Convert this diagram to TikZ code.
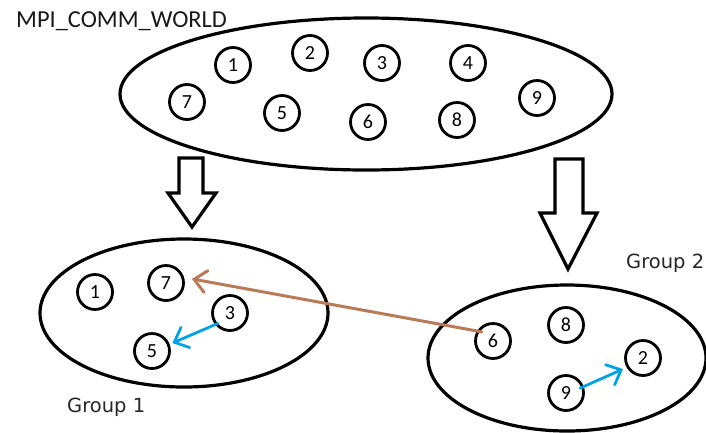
\documentclass[tikz,border=0pt]{standalone}
\usepackage{fontspec}
\setmainfont{Carlito}
\newfontfamily\labelfont{DejaVu Sans}
\usetikzlibrary{shapes.geometric,arrows.meta}
\definecolor{paintbrown}{RGB}{185,122,87}
\definecolor{paintblue}{RGB}{0,162,232}
\begin{document}
\begin{tikzpicture}[x=1pt,y=-1pt,
  proc/.style={circle,draw,line width=2.8pt,minimum size=35pt,inner sep=0pt,
    font=\fontsize{20}{20}\selectfont},
  group/.style={ellipse,draw,line width=3.2pt,inner sep=0pt},
  bigarrow/.style={draw,line width=3.2pt,line join=miter,fill=white},
  glabel/.style={anchor=base west,inner sep=0pt,text=black!85,
    font=\labelfont\fontsize{19.5}{20}\selectfont},
  msg/.style={line width=3pt,line cap=round,
    -{Straight Barb[length=12pt,width=22pt,line cap=round]}}]
\useasboundingbox (0,0) rectangle (706,432);

% title
\node[anchor=base west,inner sep=0pt,font=\fontsize{24.4}{25}\selectfont,text=black!90]
  (title) at (16,27) {MPI\_COMM\_WORLD};

% the whole communicator
\node[group,minimum width=492pt,minimum height=152pt] (world) at (366,94) {};
\node[proc] (w1) at (233,65) {1};
\node[proc] (w2) at (310,53) {2};
\node[proc] (w3) at (382,63) {3};
\node[proc] (w4) at (468,63) {4};
\node[proc] (w7) at (187,102) {7};
\node[proc] (w5) at (282,113) {5};
\node[proc] (w6) at (368,122) {6};
\node[proc] (w8) at (457,120) {8};
\node[proc] (w9) at (537,98) {9};

% split arrows
\draw[bigarrow] (179,158) -- (203,158) -- (203,193) -- (216,193) -- (192,227)
  -- (168,193) -- (179,193) -- cycle;
\draw[bigarrow] (555,159) -- (583,159) -- (583,213) -- (597,213) -- (568,269)
  -- (540,213) -- (555,213) -- cycle;

% group 1
\node[group,minimum width=288pt,minimum height=148pt] (g1) at (184,313) {};
\node[proc] (a1) at (95,292) {1};
\node[proc] (a7) at (166,283) {7};
\node[proc] (a3) at (230,313) {3};
\node[proc] (a5) at (152,351) {5};
\node[glabel] (g1label) at (67,412) {Group 1};

% group 2
\node[group,minimum width=278pt,minimum height=146pt] (g2) at (567,358) {};
\node[proc] (b6) at (493,341) {6};
\node[proc] (b8) at (566,325) {8};
\node[proc] (b2) at (643,358) {2};
\node[proc] (b9) at (566,393) {9};
\node[glabel] (g2label) at (626,268) {Group 2};

% messages
\draw[msg,paintbrown,shorten <=-5pt,shorten >=8pt] (b6.148) -- (a7.17);
\draw[msg,paintblue,line width=2.8pt,shorten <=-3pt,shorten >=3pt] (a3.218) -- (a5.21);
\draw[msg,paintblue,line width=2.8pt,shorten <=-4pt,shorten >=4pt] (b9.20) -- (b2.210);
\end{tikzpicture}
\end{document}
